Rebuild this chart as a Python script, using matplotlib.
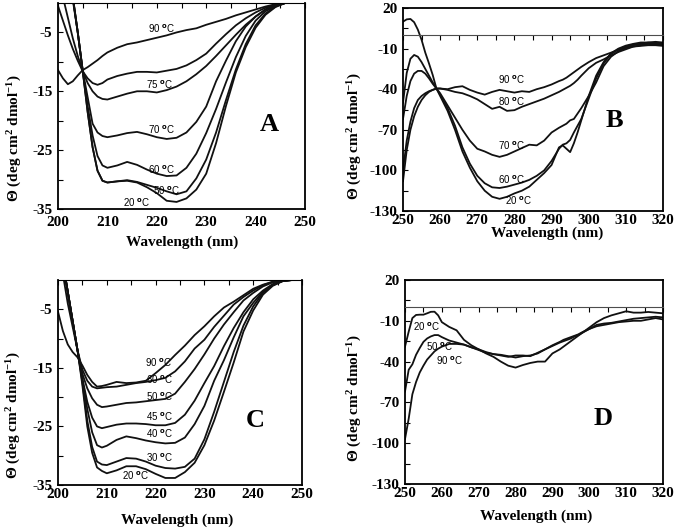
import numpy as np
import matplotlib
matplotlib.use('Agg')
import matplotlib.pyplot as plt
from matplotlib.ticker import MultipleLocator, FixedLocator

plt.rcParams['font.family'] = ['Liberation Serif', 'DejaVu Serif']
plt.rcParams['font.weight'] = 'bold'
plt.rcParams['axes.unicode_minus'] = False
plt.rcParams['mathtext.fontset'] = 'custom'
plt.rcParams['mathtext.rm'] = 'Liberation Serif:bold'
plt.rcParams['mathtext.bf'] = 'Liberation Serif:bold'
plt.rcParams['mathtext.it'] = 'Liberation Serif:bold'

# far-UV wavelength grid (panels A and C)
wl_far = [200, 201, 202, 203, 204, 205, 206, 207, 208, 209, 210, 212, 214, 216, 218,
          220, 222, 224, 226, 228, 230, 232, 234, 236, 238, 240, 242, 244, 246, 248, 250]

# panel A
a_90 = [-11.4, -12.8, -13.8, -13.3, -12.3, -11.4, -10.9, -10.3, -9.7, -9.0, -8.4, -7.6, -7.0, -6.7, -6.3,
        -5.9, -5.5, -5.0, -4.6, -4.3, -3.7, -3.2, -2.7, -2.1, -1.6, -1.1, -0.6, -0.2, 0, 0, 0]
a_80 = [-0.5, -3.0, -5.5, -7.8, -9.8, -11.6, -12.8, -13.6, -13.9, -13.6, -13.0, -12.4, -12.0, -11.7, -11.7,
        -11.8, -11.5, -11.2, -10.6, -9.7, -8.6, -6.9, -5.3, -3.8, -2.6, -1.6, -0.8, -0.3, 0, 0, 0]
a_75 = [5, 1, -2.5, -6, -9, -11.5, -13.6, -15.0, -15.9, -16.3, -16.4, -15.9, -15.4, -15.0, -15.0,
        -15.2, -14.8, -14.2, -13.3, -12.1, -10.7, -9.0, -7.2, -5.4, -3.7, -2.3, -1.1, -0.4, 0, 0, 0]
a_70 = [8, 6, 3, 0.5, -5, -11.5, -16, -20.5, -22.0, -22.6, -22.8, -22.5, -22.1, -21.9, -22.3,
        -22.8, -23.1, -22.9, -22.0, -20.2, -17.6, -13.3, -9.8, -6.5, -4.0, -2.3, -1.1, -0.4, 0, 0, 0]
a_60 = [8, 6, 3.5, 1, -5, -11.5, -17.5, -22.5, -26.0, -27.6, -28.0, -27.6, -27.0, -27.5, -28.3,
        -29.0, -29.4, -29.3, -28.0, -25.6, -22.1, -18.0, -13.5, -9.2, -5.6, -3.0, -1.4, -0.5, 0, 0, 0]
a_50 = [8, 6, 3.5, 1, -5, -11.5, -18.5, -24.5, -28.5, -30.2, -30.5, -30.3, -30.1, -30.4, -30.9,
        -31.4, -32.0, -32.5, -32.0, -29.8, -26.6, -22.0, -16.5, -11.3, -7.0, -3.8, -1.8, -0.6, 0, 0, 0]
a_20 = [8, 6, 3.5, 1, -5, -11.5, -18.5, -24.5, -28.5, -30.2, -30.5, -30.3, -30.2, -30.5, -31.3,
        -32.3, -33.6, -33.8, -33.2, -31.7, -29.0, -23.8, -17.5, -11.8, -7.5, -4.2, -2.0, -0.7, 0, 0, 0]

# panel C
c_90 = [-5.4, -8.7, -11.0, -12.3, -13.2, -14.6, -16.2, -17.4, -18.2, -18.1, -17.9, -17.4, -17.6, -17.5, -17.2,
        -15.9, -14.5, -12.8, -11.2, -9.4, -7.9, -6.2, -4.7, -3.7, -2.6, -1.5, -0.8, -0.3, 0, 0, 0]
c_60 = [8, 1, -4, -8, -12, -15.3, -17.2, -18.2, -18.5, -18.4, -18.3, -18.2, -17.9, -17.6, -17.4,
        -17.1, -16.7, -15.6, -13.9, -11.7, -10.2, -8.0, -6.1, -4.2, -2.9, -1.8, -0.9, -0.3, 0, 0, 0]
c_50 = [8, 3, -2, -7, -12, -16.0, -18.5, -20.2, -21.3, -21.7, -21.6, -21.3, -21.0, -20.9, -20.7,
        -20.5, -20.3, -19.4, -17.4, -15.2, -12.7, -10.0, -7.6, -5.5, -3.5, -2.2, -1.1, -0.4, -0.1, 0, 0]
c_45 = [8, 3, -2, -7, -12, -16.8, -20.8, -23.5, -25.0, -25.3, -25.1, -24.7, -24.5, -24.5, -24.6,
        -24.8, -24.8, -24.4, -23.0, -20.6, -17.6, -14.7, -11.3, -8.2, -5.5, -3.3, -1.8, -0.7, -0.1, 0, 0]
c_40 = [8, 3, -2, -7, -12, -17.0, -22.0, -26.0, -28.2, -28.6, -28.3, -27.3, -26.7, -27.0, -27.4,
        -27.7, -27.9, -27.8, -26.9, -24.6, -21.5, -17.2, -13.7, -9.8, -6.2, -3.9, -2.0, -0.8, -0.2, 0, 0]
c_30 = [8, 3, -2, -7, -12, -17.5, -24.0, -28.5, -31.0, -31.5, -31.6, -31.0, -30.4, -30.5, -31.0,
        -31.7, -32.1, -32.2, -31.9, -30.5, -27.2, -22.5, -17.4, -12.3, -7.8, -4.5, -2.2, -0.9, -0.2, 0, 0]
c_20 = [8, 3, -2, -7, -12, -18.0, -25.0, -29.5, -32.0, -32.6, -33.0, -32.5, -31.8, -31.8, -32.3,
        -33.1, -33.8, -33.8, -32.8, -31.2, -28.2, -24.0, -19.1, -14.1, -8.8, -5.2, -2.5, -1.0, -0.2, 0, 0]

# near-UV wavelength grid (panels B and D)
wl_near = [250, 251, 252, 253, 254, 255, 256, 257, 258, 259, 260,
           262, 264, 266, 268, 270, 272, 274, 276, 278, 280, 282, 284, 286, 288, 290,
           292, 293, 294, 295, 296, 297, 298,
           300, 302, 304, 306, 308, 310, 312, 314, 316, 318, 320]

# panel B
b_20 = [9.9, 11.6, 11.9, 9.5, 4.0, -3.5, -13.0, -21.0, -29.5, -39.5, -45.0,
        -56, -70, -86, -98, -108, -115, -119.5, -121, -119.5, -117, -115, -112, -107, -102, -96,
        -83, -81.5, -84, -86.5, -80, -72, -63,
        -45, -30, -20, -13.5, -10, -7.8, -6.5, -5.5, -5.5, -5.8, -6]
b_60 = [-50, -28, -17.5, -14.7, -16, -20, -25, -30, -35, -39.5, -44,
        -54, -67, -83, -95, -104, -109.5, -112.5, -113, -112, -110.5, -109, -107, -104, -100, -93,
        -84, -81, -80, -77.5, -72, -67, -62,
        -47, -32, -21, -14, -10.5, -8.5, -7.0, -6.5, -6.5, -7.0, -7.5]
b_70 = [-62, -45, -34, -28.5, -26.5, -26.5, -28.5, -32, -36, -39.5, -43,
        -52, -61, -70, -78, -84, -86, -88.5, -90, -88.5, -86, -83.5, -81, -81.5, -78, -72,
        -68.5, -67, -65.5, -63, -62, -58, -54,
        -45, -35, -23, -16, -12, -9.5, -8.5, -8, -7.5, -7.5, -8]
b_80 = [-100, -78, -64, -54, -48, -45, -43, -41.5, -40.5, -39.5, -39.5,
        -40.5, -42, -43, -45, -47.5, -51, -54.5, -53, -56, -55.5, -53, -51, -49, -47, -44.5,
        -42, -40.5, -39, -37.5, -35.5, -33, -30,
        -24.5, -20.5, -18, -15, -12.5, -10.5, -8.5, -7.5, -6.5, -6.5, -7]
b_90 = [-108, -85, -70, -60, -53, -48, -44.5, -42, -40.5, -39.5, -39.5,
        -40, -38.5, -37.8, -40.5, -42.5, -44, -42, -40.5, -41.5, -42.5, -41.5, -42, -40, -38.5, -36.5,
        -34, -33, -31.5, -29.5, -27.5, -25.5, -23.5,
        -20, -17, -15, -13, -11, -9, -7.5, -6.5, -5.5, -5, -5.5]

# panel D
d_20 = [-29, -18, -8, -5.7, -5.5, -5.5, -4.5, -3.4, -3.3, -6, -11,
        -14.5, -17, -24, -28, -31, -34, -36.5, -40, -43, -44.4, -42.5, -41, -40, -40, -34,
        -31, -29, -27, -25, -23, -21, -19,
        -15, -11, -8, -6, -4.5, -3, -4, -4, -3.5, -4, -4.5]
d_50 = [-62, -46, -42, -35, -30, -25.5, -23, -21.5, -20.5, -20.5, -22,
        -24.5, -26, -27.5, -29.5, -31, -33, -34.5, -35, -36, -37, -36, -35.5, -34, -31, -28,
        -25.5, -24, -23, -22, -21, -20, -18.5,
        -16, -13, -12, -11.5, -10.5, -9.5, -8.5, -8, -7.5, -7, -7.5]
d_90 = [-97, -82, -64, -55, -48, -43, -38.5, -35.5, -32.5, -30.5, -29,
        -27, -27, -27.5, -29.5, -31.5, -33.5, -34.5, -35.5, -36.5, -35.5, -35.5, -36, -33.5, -31, -28.5,
        -26, -25, -24, -23, -21.5, -20.5, -19,
        -16, -14, -13, -12, -11, -10.5, -10, -10, -9, -8, -9]

# curve labels: temperature, x (nm), y
lab_a = [(90, 220.9, -4.4), (75, 220.5, -13.9), (70, 220.9, -21.5), (60, 220.9, -28.3),
         (50, 222.0, -31.9), (20, 215.9, -33.9)]
lab_b = [(90, 279.3, -33), (80, 279.3, -49), (70, 279.3, -82), (60, 279.3, -107), (20, 281.2, -122.6)]
lab_c = [(90, 220.6, -14.2), (60, 220.8, -17.1), (50, 220.8, -20.0), (45, 220.8, -23.3),
         (40, 220.8, -26.3), (30, 220.8, -30.3), (20, 216.0, -33.4)]
lab_d = [(20, 255.9, -14.3), (50, 259.5, -29), (90, 262.2, -39.6)]

ylab = r'$\Theta$ (deg cm$^{2}$ dmol$^{-1}$)'

fig = plt.figure(figsize=(6.76, 5.29), dpi=100)
W, H = 676, 529


def make_axes(l, t, r, b):
    return fig.add_axes([l / W, 1 - b / H, (r - l) / W, (b - t) / H])


def style(ax, xlim, ylim, yticks, yminor, xpad):
    ax.set_xlim(xlim)
    ax.set_ylim(ylim)
    ax.xaxis.set_major_locator(MultipleLocator(10))
    ax.xaxis.set_minor_locator(MultipleLocator(5))
    ax.yaxis.set_major_locator(FixedLocator(yticks))
    ax.yaxis.set_minor_locator(FixedLocator(yminor))
    ax.spines['top'].set_position(('data', 0))
    for s in ['left', 'right', 'bottom']:
        ax.spines[s].set_linewidth(1.3)
    ax.tick_params(axis='x', which='both', bottom=False, top=True, labelbottom=True,
                   labeltop=False, direction='in', length=3.5, width=0.8, pad=xpad)
    ax.tick_params(axis='y', which='both', left=True, right=False, direction='in',
                   length=3.5, width=0.8, pad=4)
    ax.tick_params(labelsize=11)


def draw(ax, wl, curves, labels, letter, letter_pos, ylab_pos, xlab_pos):
    for y in curves:
        ax.plot(wl, y, color='#111111', lw=1.3, solid_joinstyle='round')
    for t, x, y in labels:
        ax.text(x, y, f'{t} ' + r'$^{\rm o}$C', fontsize=7, fontweight='normal',
                family='Liberation Sans', math_fontfamily='dejavusans', ha='center', va='center')
    ax.text(*letter_pos, letter, transform=ax.transAxes, fontsize=19, ha='center', va='center')
    ax.text(*ylab_pos, ylab, transform=ax.transAxes, fontsize=11, rotation=90,
            ha='center', va='center')
    ax.text(*xlab_pos, 'Wavelength (nm)', transform=ax.transAxes, fontsize=11,
            ha='center', va='center')


ax_a = make_axes(58, 3, 305, 209)
style(ax_a, (200, 250), (-35, 0), [-35, -25, -15, -5], [-30, -20, -10], 5)
draw(ax_a, wl_far, [a_90, a_80, a_75, a_70, a_60, a_50, a_20], lab_a, 'A',
     (0.854, 0.408), (-0.174, 0.345), (0.502, -0.16))

ax_b = make_axes(403, 8, 663, 211)
style(ax_b, (250, 320), (-130, 20), [-130, -100, -70, -40, -10, 20], [-115, -85, -55, -25, 5], 2)
ax_b.spines['top'].set_linewidth(0.8)
ax_b.spines['top'].set_color('0.3')
ax_b.axhline(20, color='k', lw=1.3, clip_on=False)
draw(ax_b, wl_near, [b_20, b_60, b_70, b_80, b_90], lab_b, 'B',
     (0.815, 0.448), (-0.185, 0.369), (0.553, -0.108))

ax_c = make_axes(58, 280, 302, 485)
style(ax_c, (200, 250), (-35, 0), [-35, -25, -15, -5], [-30, -20, -10], 2.5)
draw(ax_c, wl_far, [c_90, c_60, c_50, c_45, c_40, c_30, c_20], lab_c, 'C',
     (0.807, 0.317), (-0.18, 0.341), (0.49, -0.171))

ax_d = make_axes(405, 280, 663, 484)
style(ax_d, (250, 320), (-130, 20), [-130, -100, -70, -40, -10, 20], [-115, -85, -55, -25, 5], 2.5)
ax_d.spines['top'].set_linewidth(0.8)
ax_d.spines['top'].set_color('0.3')
ax_d.axhline(20, color='k', lw=1.3, clip_on=False)
draw(ax_d, wl_near, [d_20, d_50, d_90], lab_d, 'D',
     (0.766, 0.322), (-0.194, 0.42), (0.51, -0.157))

fig.savefig('out.png', dpi=100)
